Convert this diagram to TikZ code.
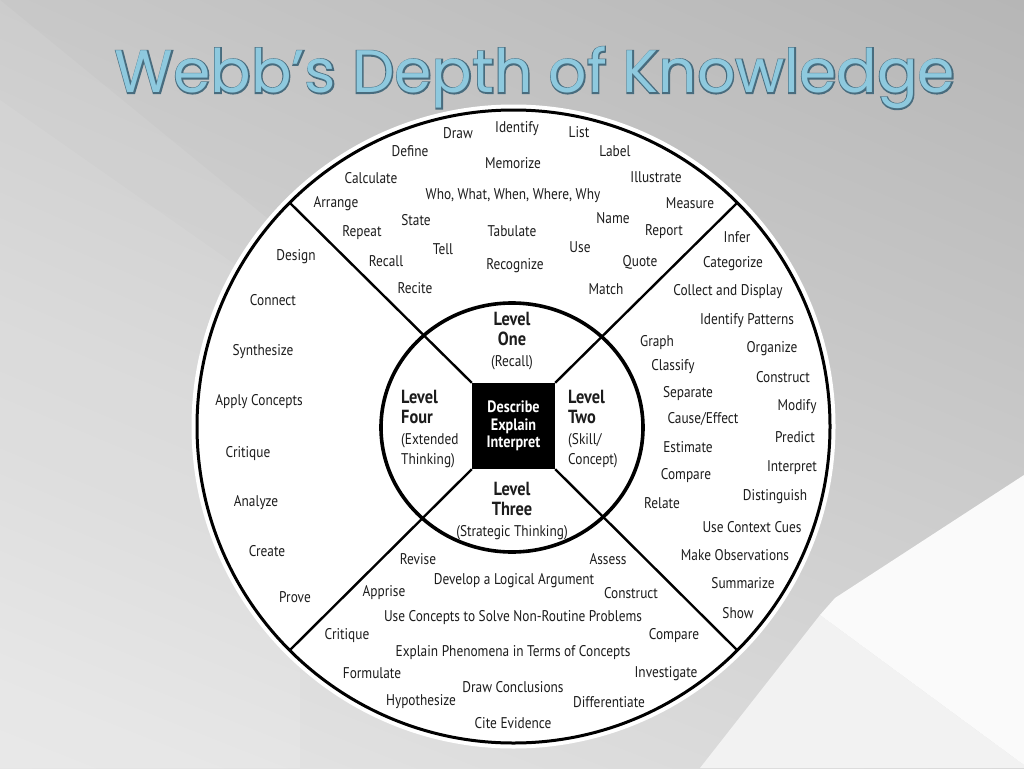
\documentclass[tikz,border=0pt]{standalone}
\usepackage{fontspec}
\usetikzlibrary{calc,shadings}
\setmainfont{PT Sans}[FakeStretch=0.86]
\newfontfamily\titlefont{Poppins}
\newfontfamily\titleback{Poppins}[FakeBold=4]
\definecolor{ink}{RGB}{28,28,28}
\definecolor{bgul}{RGB}{200,200,200}
\definecolor{bgur}{RGB}{182,182,182}
\definecolor{bgll}{RGB}{230,230,230}
\definecolor{bglr}{RGB}{214,214,214}
\definecolor{titlefill}{RGB}{142,201,222}
\definecolor{titleline}{RGB}{72,108,126}
\tikzset{
  wd/.style={font=\fontsize{15.5}{15.5}\selectfont, text=ink, inner sep=0pt},
  lvl/.style={font=\fontsize{19}{20.5}\selectfont, text=ink, inner sep=0pt},
  corebox/.style={fill=black, minimum width=83pt, minimum height=86pt, inner sep=0pt, text=white,
     font=\fontsize{16.5}{17.5}\selectfont\bfseries, align=center},
  ring/.style={line width=3pt, draw=black},
  spoke/.style={line width=2.4pt, draw=black},
  titletext/.style={inner sep=0pt},
}
\newcommand{\smallparen}[1]{{\fontsize{15.5}{19.5}\selectfont #1}}
\begin{document}
\begin{tikzpicture}[x=1pt, y=-1pt]
\useasboundingbox (0,0) rectangle (1024,768);
% background
\shade[upper left=bgul, upper right=bgur, lower left=bgll, lower right=bglr] (0,0) rectangle (1024,768);
\fill[white, opacity=0.08] (0,0) -- (300,245) -- (300,768) -- (0,768) -- cycle;
\fill[white, opacity=0.08] (0,100) -- (300,310) -- (300,768) -- (0,768) -- cycle;
\fill[white!95!black] (700,768) -- (820,615) -- (1024,765) -- (1024,768) -- cycle;
\fill[white!98!black] (835,598) -- (1024,475) -- (1024,765) -- (820,615) -- cycle;
% title
\coordinate (tc) at (535,78);
\node[titletext, text=titleline, font={\titleback\fontsize{60}{60}\selectfont}] (titleedge) at (tc) {Webb’s Depth of Knowledge};
\node[titletext, text=titlefill, font={\titlefont\fontsize{60}{60}\selectfont}] (title) at (tc) {Webb’s Depth of Knowledge};
% wheel
\fill[white] (513.5,426.5) circle (322);
\draw[ring] (513.5,426.5) circle (316.5);
\coordinate (ul) at (289.7,202.7);
\coordinate (ur) at (737.3,202.7);
\coordinate (ll) at (289.7,650.3);
\coordinate (lr) at (737.3,650.3);
\node[corebox] (core) at (513.5,426) {Describe\\Explain\\Interpret};
\draw[spoke] (ul) -- (core.north west);
\draw[spoke] (ur) -- (core.north east);
\draw[spoke] (ll) -- (core.south west);
\draw[spoke] (lr) -- (core.south east);
\draw[line width=3.6pt] (512,427.5) ellipse (131 and 124.5);
% levels
\node[lvl, align=center] (lone) at (512,341) {\bfseries Level\\\bfseries One\\\smallparen{(Recall)}};
\node[lvl, align=center] (lthree) at (512,511) {\bfseries Level\\\bfseries Three\\\smallparen{(Strategic Thinking)}};
\node[lvl, align=left, anchor=west] (lfour) at (401,429) {\bfseries Level\\\bfseries Four\\\smallparen{(Extended}\\\smallparen{Thinking)}};
\node[lvl, align=left, anchor=west] (ltwo) at (568,429) {\bfseries Level\\\bfseries Two\\\smallparen{(Skill/}\\\smallparen{Concept)}};
% words
\foreach \x/\y/\t [count=\i] in {
 458/133/Draw, 517/129/Identify, 579/132/List, 410/151/Define, 513/163/Memorize, 615/151/Label,
 371/178/Calculate, 656/177/Illustrate, 513/196/{Who, What, When, Where, Why}, 690/203/Measure,
 336/204/Arrange, 613/218/Name, 416/220/State, 362/233/Repeat, 512/231/Tabulate, 664/232/Report,
 443/249/Tell, 580/247/Use, 386/261/Recall, 515/266/Recognize, 640/262/Quote, 415/288/Recite, 606/289/Match,
 737/237/Infer, 733/264/Categorize, 728/292/Collect and Display, 747/321/Identify Patterns,
 657/343/Graph, 772/349/Organize, 673/367/Classify, 783/377/Construct, 688/394/Separate, 797/407/Modify,
 703/419/{Cause/Effect}, 795/437/Predict, 688/447/Estimate, 792/468/Interpret, 686/476/Compare,
 775/497/Distinguish, 662/503/Relate, 752/527/Use Context Cues, 735/555/Make Observations,
 743/583/Summarize, 738/613/Show,
 296/257/Design, 273/300/Connect, 263/352/Synthesize, 259/402/Apply Concepts, 248/454/Critique,
 256/503/Analyze, 267/551/Create, 295/597/Prove,
 418/559/Revise, 608/559/Assess, 514/581/Develop a Logical Argument, 384/593/Apprise, 631/593/Construct,
 513/618/Use Concepts to Solve Non-Routine Problems, 347/636/Critique, 674/636/Compare,
 513/653/Explain Phenomena in Terms of Concepts, 372/673/Formulate, 666/674/Investigate,
 513/687/Draw Conclusions, 421/702/Hypothesize, 609/702/Differentiate, 513/723/Cite Evidence} {
  \node[wd] (w\i) at (\x,\y) {\t};
}
\end{tikzpicture}
\end{document}
